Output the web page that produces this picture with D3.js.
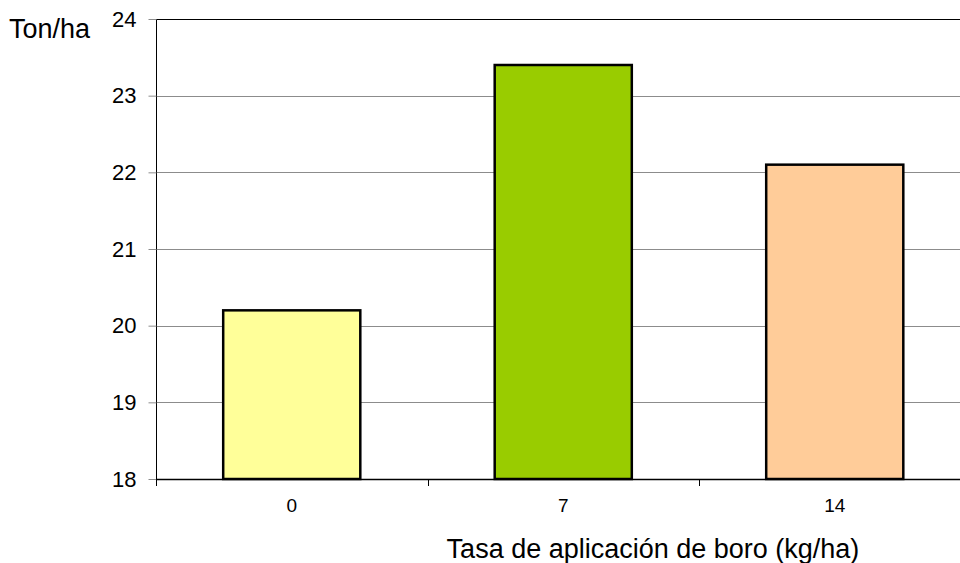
<!DOCTYPE html>
<html>
<head>
<meta charset="utf-8">
<script src="https://cdn.jsdelivr.net/npm/d3@7"></script>
<style>
  html, body { margin: 0; padding: 0; background: #fff; }
  svg { display: block; font-family: "Liberation Sans", Arial, sans-serif; }
</style>
</head>
<body>
<svg id="chart" width="960" height="563"></svg>
<script>
// Yield by boron application rate
const categories = ["0", "7", "14"];
const values = [20.2, 23.4, 22.1];
const barColors = ["#FFFF99", "#99CC00", "#FFCC99"];
const yTicks = [18, 19, 20, 21, 22, 23, 24];
const yUnit = "Ton/ha";
const xTitle = "Tasa de aplicación de boro (kg/ha)";

const svg = d3.select("#chart");
const plotLeft = 156, plotRight = 970.5, plotTop = 19, plotBottom = 479;

const x = d3.scaleBand().domain(categories).range([plotLeft, plotRight]).paddingInner(0).paddingOuter(0);
const y = d3.scaleLinear().domain([18, 24]).range([plotBottom, plotTop]);

// horizontal gridlines
svg.append("g").selectAll("line").data(yTicks.filter(t => t > 18 && t < 24)).join("line")
  .attr("x1", plotLeft).attr("x2", 960)
  .attr("y1", d => Math.round(y(d)) + 0.5).attr("y2", d => Math.round(y(d)) + 0.5)
  .attr("stroke", "#8c8c8c").attr("stroke-width", 1);

// top border of the plot area
svg.append("line")
  .attr("x1", plotLeft).attr("x2", 960)
  .attr("y1", Math.round(y(24)) + 0.5).attr("y2", Math.round(y(24)) + 0.5)
  .attr("stroke", "#000").attr("stroke-width", 1);

// bars
const bw = x.bandwidth() * 0.505;
svg.append("g").selectAll("rect").data(categories).join("rect")
  .attr("x", (d) => x(d) + (x.bandwidth() - bw) / 2)
  .attr("width", bw)
  .attr("y", (d, i) => y(values[i]))
  .attr("height", (d, i) => y(18) - y(values[i]))
  .attr("fill", (d, i) => barColors[i])
  .attr("stroke", "#000").attr("stroke-width", 2.5);

// y axis
const yAxis = d3.axisLeft(y).tickValues(yTicks).tickSize(8).tickPadding(12).tickFormat(d3.format("d"));
const gy = svg.append("g").attr("transform", `translate(${plotLeft + 0.5},0)`).call(yAxis);
gy.select(".domain").attr("stroke", "#000").attr("d", `M0,${plotTop}V${plotBottom}`);
gy.selectAll(".tick line").attr("stroke", "#8c8c8c");
gy.selectAll(".tick text").attr("font-size", 22).attr("fill", "#000")
  .attr("font-family", '"Liberation Sans", Arial, sans-serif');

// x axis: ticks at category boundaries, labels centered in each band
svg.append("line").attr("x1", plotLeft).attr("x2", 960)
  .attr("y1", plotBottom + 0.5).attr("y2", plotBottom + 0.5)
  .attr("stroke", "#000").attr("stroke-width", 1.5);
const bounds = categories.map(c => x(c));
svg.append("g").selectAll("line").data(bounds).join("line")
  .attr("x1", d => Math.round(d) + 0.5).attr("x2", d => Math.round(d) + 0.5)
  .attr("y1", plotBottom).attr("y2", plotBottom + 7)
  .attr("stroke", "#000").attr("stroke-width", 1);
svg.append("g").selectAll("text").data(categories).join("text")
  .attr("x", d => x(d) + x.bandwidth() / 2)
  .attr("y", 512)
  .attr("text-anchor", "middle")
  .attr("font-size", 19)
  .attr("fill", "#000")
  .text(d => d);

// unit label and axis title
svg.append("text").attr("x", 9).attr("y", 38).attr("font-size", 27).attr("fill", "#000").text(yUnit);
svg.append("text").attr("x", 653).attr("y", 558).attr("text-anchor", "middle")
  .attr("font-size", 27).attr("fill", "#000").text(xTitle);
</script>
</body>
</html>
